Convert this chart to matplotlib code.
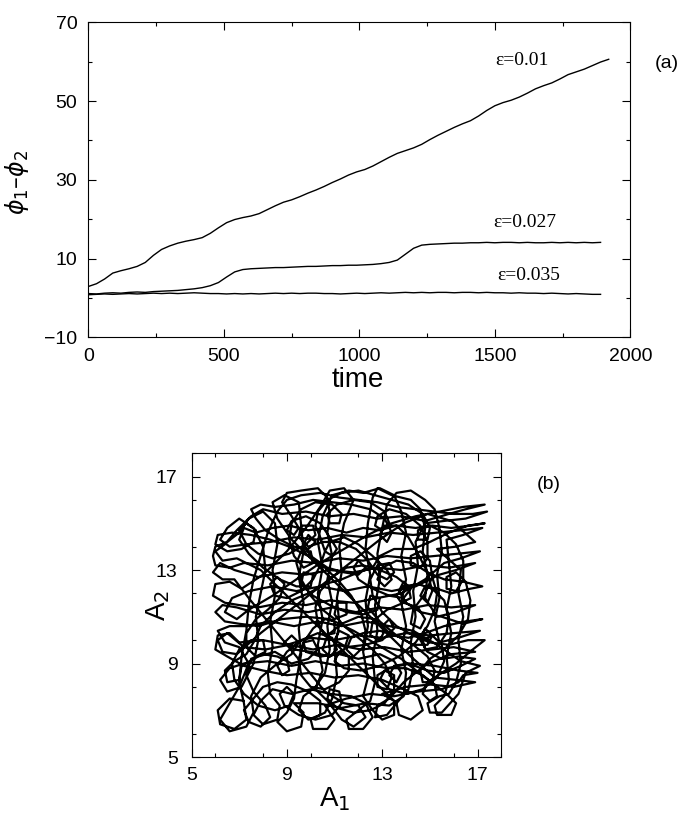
import matplotlib
matplotlib.use("Agg")
import matplotlib.pyplot as plt
from matplotlib.ticker import MultipleLocator

plt.rcParams['font.family'] = ['Liberation Sans', 'DejaVu Sans']
plt.rcParams['mathtext.fontset'] = 'dejavusans'

# ---- panel (a): phase difference versus time ----
time_a = list(range(0, 1921, 30))
time_b = list(range(0, 1891, 30))

phase_eps_001 = [
    2.9, 3.6, 4.8, 6.3, 6.9, 7.4, 8.0, 9.0, 10.8, 12.3,
    13.2, 13.9, 14.4, 14.8, 15.3, 16.4, 17.8, 19.1, 19.9, 20.4,
    20.8, 21.4, 22.4, 23.4, 24.3, 24.9, 25.7, 26.6, 27.4, 28.3,
    29.3, 30.2, 31.2, 32.0, 32.6, 33.5, 34.6, 35.7, 36.7, 37.4,
    38.1, 39.0, 40.2, 41.3, 42.3, 43.3, 44.2, 45.0, 46.2, 47.6,
    48.8, 49.6, 50.2, 51.0, 52.0, 53.1, 53.9, 54.6, 55.6, 56.7,
    57.4, 58.1, 59.0, 59.9, 60.6,
]
phase_eps_0027 = [
    1.1, 1.0, 1.2, 1.3, 1.2, 1.4, 1.5, 1.4, 1.6, 1.7,
    1.8, 1.9, 2.1, 2.3, 2.6, 3.1, 3.9, 5.3, 6.6, 7.2,
    7.4, 7.5, 7.6, 7.7, 7.7, 7.8, 7.9, 8.0, 8.0, 8.1,
    8.2, 8.2, 8.3, 8.3, 8.4, 8.5, 8.7, 9.0, 9.6, 11.1,
    12.6, 13.4, 13.6, 13.7, 13.8, 13.9, 13.9, 14.0, 14.0, 14.1,
    14.0, 14.1, 14.1, 14.0, 14.1, 14.0, 14.0, 14.1, 14.0, 14.1,
    14.0, 14.1, 14.0, 14.1,
]
phase_eps_0035 = [
    0.8, 0.9, 1.0, 0.9, 1.0, 1.1, 1.0, 1.1, 1.2, 1.1,
    1.2, 1.1, 1.2, 1.3, 1.2, 1.1, 1.1, 1.0, 1.1, 1.0,
    1.1, 1.0, 1.1, 1.2, 1.1, 1.2, 1.1, 1.2, 1.2, 1.1,
    1.1, 1.0, 1.1, 1.2, 1.1, 1.2, 1.3, 1.2, 1.3, 1.4,
    1.3, 1.4, 1.3, 1.4, 1.4, 1.3, 1.4, 1.4, 1.3, 1.4,
    1.3, 1.3, 1.2, 1.3, 1.2, 1.2, 1.1, 1.2, 1.1, 1.0,
    1.1, 1.0, 0.9, 0.9,
]
eps_labels = ['ε=0.01', 'ε=0.027', 'ε=0.035']

# ---- panel (b): amplitude A2 against amplitude A1 (one long orbit) ----
amp_a1_part1 = [
    7.2, 6.6, 6.1, 6.2, 6.8, 7.3, 7.2, 7.0, 7.1, 7.3,
    7.4, 7.6, 7.9, 8.2, 8.6, 9.0, 9.6, 10.4, 11.2, 12.0,
    12.8, 13.6, 14.4, 15.2, 16.0, 16.8, 17.4, 16.5, 15.6, 14.8,
    14.4, 14.5, 14.3, 14.4, 14.2, 14.3, 14.1, 13.6, 13.7, 14.2,
    14.7, 14.5, 13.9, 13.0, 12.0, 11.0, 10.0, 9.0, 8.0, 7.2,
    6.5, 6.0, 6.1, 6.6, 7.0, 8.0, 9.0, 10.0, 11.0, 12.0,
    13.0, 14.0, 15.0, 16.0, 17.1, 16.2, 15.4, 15.2, 15.4, 15.3,
    15.5, 15.4, 15.2, 14.8, 14.2, 13.6, 13.2, 13.0, 12.8, 12.9,
    12.7, 12.8, 12.6, 12.7, 12.5, 12.0, 11.5, 11.6, 12.2, 12.6,
    12.3, 11.7, 10.8, 10.0, 9.2, 8.4, 7.9, 7.6, 8.0, 8.6,
    8.7, 8.3, 8.2, 8.4, 8.3, 8.5, 8.4, 8.6, 8.5, 8.0,
    7.4, 7.0, 6.5, 6.0, 5.9, 6.0, 6.6, 7.2, 8.2, 9.2,
    10.2, 11.2, 12.2, 13.2, 14.2, 15.2, 16.2, 17.1, 16.3, 15.6,
    14.8, 13.8, 12.8, 11.8, 10.8, 9.8, 8.8, 7.8, 7.0, 6.4,
    5.9, 6.0, 6.6, 7.1, 8.0, 9.0, 9.8, 10.4, 10.8, 11.4,
    11.8, 11.4, 11.2, 11.3, 11.1, 11.2, 11.0, 11.1, 10.9, 10.6,
    10.0, 10.1, 10.7, 11.0, 10.6, 11.5, 12.5, 13.5, 14.5, 15.5,
    16.2, 16.4, 17.0, 16.2, 15.2, 14.2, 13.2, 12.2, 11.2, 10.2,
    9.2, 8.2, 7.2, 6.6, 6.2, 6.5, 7.1, 7.6, 7.8, 7.7,
    7.9, 8.1, 8.0, 7.6, 7.0, 6.5, 6.2, 6.6, 7.3, 8.3,
    9.3, 10.3, 11.3, 12.3, 13.3, 14.3, 15.3, 16.3, 17.2, 16.4,
    15.7, 15.8, 15.9, 15.7, 15.9, 15.7, 15.8, 15.6, 15.2, 15.3,
    15.9, 16.1, 15.7, 14.8, 13.8, 12.8, 11.8, 10.8, 9.8, 8.8,
    7.8, 7.0, 6.4, 6.0, 6.3, 6.9, 7.9, 8.9, 9.9, 10.9,
    11.9, 12.9, 13.9, 14.9, 15.9, 16.9, 16.1, 15.3, 14.8, 14.9,
    14.7, 14.8, 14.6, 14.2, 13.4, 12.8, 12.6, 12.4, 12.3, 12.5,
    12.3, 12.4, 12.2, 12.4, 12.2, 12.6, 13.0, 13.5, 13.5, 13.0,
    14.0, 15.0, 16.0, 16.9, 16.1, 15.2, 14.2, 13.2, 12.2, 11.2,
    10.2, 9.2, 8.6, 8.4, 8.9, 9.5, 9.6, 9.7, 9.5, 9.7,
    9.5, 9.6, 9.4, 9.3, 9.0, 8.6, 9.0, 9.6, 9.7, 9.3,
    10.3, 11.3, 12.3, 13.3, 13.9, 14.0, 13.8, 14.0, 13.8, 14.0,
    13.8, 14.0, 13.8, 13.5, 12.9, 12.2, 11.6, 10.9, 10.5, 10.3,
    10.5, 10.3, 10.5, 10.3, 10.5, 10.2, 10.7, 11.3, 11.8, 12.3,
    12.0, 11.4, 10.6, 9.8, 9.0, 8.2, 7.4, 6.8, 6.3, 5.9,
    6.2, 6.8, 7.8, 8.8, 9.8, 10.8, 11.8, 12.8, 13.8, 14.8,
    15.8, 16.9, 16.1, 15.4, 14.4, 13.4, 12.4, 11.4, 10.4, 9.4,
    8.4, 7.4, 6.7, 6.4, 6.9, 7.4, 8.4, 9.4, 10.4, 11.4,
    12.4, 13.4, 14.4, 15.4, 16.4, 17.3, 16.5, 15.8, 14.8, 13.8,
    12.8, 11.8, 10.8, 9.8, 8.8, 8.0, 7.5, 6.9, 6.4, 6.0,
    6.3, 6.9, 7.9, 8.9, 9.9, 10.9, 11.9, 12.9, 13.6, 13.2,
    12.7, 12.8, 13.3, 13.9, 14.9, 15.9, 16.9, 16.0, 15.1, 14.1,
    13.1, 12.1, 11.1, 10.1, 9.1, 8.1, 7.2, 6.5, 6.1, 6.3,
    6.9, 7.9, 8.9, 9.9, 10.9, 11.9, 12.9, 13.9, 14.9, 15.9,
    16.9, 16.1, 15.3, 16.3, 16.2, 16.4, 16.2, 16.3, 16.1, 15.8,
    15.4, 14.9, 15.0, 15.5, 16.2, 16.5, 17.1, 16.3, 15.3, 14.3,
    13.3, 12.3, 11.3, 10.3, 9.3, 8.3, 7.3, 6.6, 6.1, 6.4,
    7.0, 7.4, 7.0, 6.6, 6.2, 6.6, 7.3, 7.6, 7.5, 7.9,
]
amp_a2_part1 = [
    7.4, 7.5, 7.0, 6.4, 6.2, 6.6, 7.3, 8.2, 9.3, 10.4,
    11.5, 12.6, 13.6, 14.6, 15.5, 16.0, 16.2, 16.3, 16.1, 16.0,
    15.9, 15.7, 15.6, 15.5, 15.4, 15.4, 15.5, 15.2, 15.1, 15.0,
    14.2, 13.2, 12.1, 11.0, 9.9, 8.8, 7.9, 7.3, 6.8, 6.6,
    7.0, 7.6, 7.9, 8.3, 8.5, 8.4, 8.6, 8.5, 8.7, 8.9,
    9.3, 9.6, 10.2, 10.3, 9.9, 10.0, 9.8, 10.1, 10.0, 10.2,
    10.1, 10.3, 10.2, 10.3, 10.4, 10.1, 9.9, 10.8, 11.8, 12.8,
    13.8, 14.8, 15.6, 16.0, 16.4, 16.3, 15.8, 14.8, 13.7, 12.6,
    11.5, 10.4, 9.3, 8.2, 7.4, 7.0, 6.6, 6.2, 6.2, 6.7,
    7.3, 7.6, 7.7, 7.9, 7.7, 7.9, 7.4, 6.8, 6.4, 6.6,
    7.2, 7.7, 8.6, 9.7, 10.8, 11.9, 13.0, 14.1, 15.0, 15.5,
    15.2, 14.6, 14.2, 14.0, 13.6, 13.2, 13.1, 13.3, 13.2, 13.4,
    13.3, 13.5, 13.4, 13.6, 13.5, 13.6, 13.7, 13.8, 13.5, 13.3,
    12.6, 12.0, 11.8, 11.6, 11.7, 11.5, 11.6, 11.4, 11.5, 11.6,
    11.9, 12.4, 12.5, 12.2, 12.8, 13.8, 14.8, 15.7, 16.4, 16.5,
    16.0, 15.0, 14.0, 12.9, 11.8, 10.7, 9.6, 8.5, 7.5, 6.9,
    6.6, 6.2, 6.2, 6.6, 7.2, 7.5, 7.7, 7.6, 7.8, 7.9,
    8.2, 8.5, 8.6, 8.7, 8.9, 9.0, 8.8, 9.0, 8.9, 9.1,
    8.9, 9.1, 9.0, 8.8, 8.3, 7.8, 8.0, 9.0, 10.0, 11.0,
    12.0, 13.0, 14.0, 14.8, 15.2, 14.8, 14.3, 14.0, 14.1, 14.2,
    14.4, 14.3, 14.5, 14.4, 14.6, 14.5, 14.6, 14.7, 14.8, 14.5,
    14.3, 13.3, 12.3, 11.3, 10.3, 9.3, 8.3, 7.6, 7.2, 6.8,
    6.8, 7.3, 7.7, 8.4, 9.2, 9.8, 10.4, 10.9, 11.0, 10.9,
    10.6, 10.7, 10.8, 11.2, 11.5, 11.4, 11.1, 11.3, 11.2, 11.4,
    11.2, 11.4, 11.3, 11.5, 11.4, 11.5, 11.2, 11.0, 11.8, 12.8,
    13.8, 14.8, 15.6, 16.0, 16.2, 16.5, 16.1, 15.0, 13.9, 12.8,
    11.7, 10.6, 9.5, 8.4, 7.6, 7.0, 6.6, 6.8, 7.4, 7.7,
    8.0, 8.1, 8.0, 8.2, 8.3, 8.4, 9.3, 10.3, 11.3, 12.3,
    13.3, 14.3, 15.2, 15.9, 16.2, 15.9, 14.9, 13.8, 12.7, 11.6,
    10.5, 9.4, 8.3, 7.5, 6.9, 6.5, 6.1, 6.3, 6.9, 7.3,
    7.3, 7.1, 7.3, 7.2, 7.6, 8.6, 9.6, 10.6, 11.6, 12.6,
    13.6, 14.6, 15.5, 16.2, 16.5, 16.3, 16.4, 16.2, 15.3, 14.2,
    13.1, 12.0, 10.9, 9.8, 8.7, 7.9, 7.4, 6.6, 6.3, 6.7,
    7.2, 7.3, 7.8, 8.8, 9.8, 10.8, 11.8, 12.6, 12.6, 12.9,
    13.3, 13.0, 12.7, 12.9, 12.8, 13.0, 12.9, 13.1, 13.0, 13.2,
    13.1, 13.3, 13.0, 12.8, 12.3, 12.1, 12.3, 12.1, 12.3, 12.1,
    12.3, 12.1, 11.8, 11.2, 10.9, 11.3, 11.9, 12.6, 13.3, 13.9,
    14.5, 15.0, 15.3, 15.5, 15.7, 15.8, 15.6, 15.4, 15.1, 15.3,
    15.2, 15.4, 15.3, 15.5, 15.4, 15.6, 15.3, 14.7, 14.1, 13.8,
    13.4, 13.5, 13.0, 12.0, 11.0, 10.0, 9.0, 8.0, 7.3, 6.8,
    6.7, 7.2, 7.5, 8.2, 9.0, 9.4, 9.5, 9.7, 9.6, 9.5,
    9.7, 9.6, 9.8, 9.6, 9.8, 9.6, 9.7, 10.3, 10.0, 9.5,
    9.4, 10.3, 11.1, 11.9, 12.7, 13.5, 14.3, 15.0, 15.4, 15.1,
    14.2, 14.0, 13.9, 13.0, 12.0, 11.0, 10.0, 9.0, 8.2, 7.7,
    7.6, 7.3, 6.9, 6.9, 7.7, 8.6, 8.9, 9.1, 9.8, 10.4,
    10.6, 10.8, 10.6, 10.8, 10.6, 10.8, 10.6, 10.6, 10.4, 9.9,
    9.7, 9.0, 8.0, 7.3, 6.6, 6.1, 6.3, 6.9, 7.6, 8.4,
]
amp_a1_part2 = [
    8.6, 9.2, 9.5, 9.2, 8.9, 9.3, 10.0, 10.8, 11.4, 11.6,
    11.2, 11.0, 11.5, 12.3, 13.0, 13.5, 13.3, 13.0, 13.4, 14.1,
    14.8, 15.6, 16.5, 17.2, 16.4, 15.5, 14.6, 14.0, 13.7, 13.9,
    14.2, 13.9, 13.3, 12.6, 12.0, 11.8, 12.0, 12.3, 12.0, 11.4,
    10.7, 10.0, 9.7, 9.9, 10.2, 9.9, 9.3, 8.7, 8.1, 7.7,
    7.5, 7.9, 8.5, 9.3, 10.1, 10.9, 11.7, 12.5, 13.1, 13.4,
    13.2, 12.9, 13.1, 13.6, 14.1, 14.5, 14.9, 15.1, 14.9, 14.6,
    14.8, 15.3, 15.9, 16.7, 17.2, 16.4, 15.6, 14.9, 14.3, 13.6,
    13.0, 12.8, 13.1, 13.4, 13.2, 12.6, 12.0, 11.4, 10.8, 10.6,
    10.9, 11.1, 10.8, 10.4, 9.8, 9.2, 9.0, 9.3, 9.5, 9.2,
    8.8, 9.0, 9.6, 10.3, 10.7, 10.8, 10.7, 10.9, 10.7, 10.9,
    10.7, 10.8, 10.6, 10.2, 9.7, 9.5, 9.9, 10.4, 10.4, 9.9,
    9.2, 8.6, 8.0, 7.6, 7.2, 7.4, 7.9, 8.3, 8.1, 7.6,
    7.3, 7.5, 8.0, 8.6, 9.2, 9.9, 10.3, 10.1, 9.7, 9.8,
    10.4, 11.2, 12.0, 12.9, 13.5, 13.8, 13.6, 13.3, 13.5, 14.1,
    14.9, 15.6, 16.3, 16.9, 16.2, 15.5, 14.9, 14.6, 14.8, 15.1,
    14.9, 14.3, 13.6, 12.9, 12.4, 12.5, 12.9, 12.8, 12.2, 11.5,
    10.8, 10.1, 9.6, 9.7, 10.1, 10.0, 9.4, 8.7, 8.0, 7.4,
    7.0, 7.2, 7.7, 8.4, 9.1, 9.9, 10.7, 11.5, 12.2, 12.9,
    13.6, 14.4, 15.1, 15.9, 16.7, 17.3, 16.6, 15.8, 15.0, 14.3,
    13.5, 12.9, 12.6, 12.0, 11.3, 10.6, 9.9, 9.2, 8.5, 7.9,
    7.6, 7.3, 6.8, 6.4, 6.5, 7.0, 7.1,
]
amp_a2_part2 = [
    9.0, 9.4, 9.9, 10.2, 9.9, 9.6, 9.5, 9.3, 9.6, 10.2,
    10.4, 10.0, 9.7, 9.8, 10.0, 10.5, 10.9, 10.6, 10.2, 10.1,
    10.3, 10.6, 10.8, 10.9, 10.7, 11.0, 11.2, 11.6, 12.1, 12.5,
    12.2, 11.8, 11.9, 12.2, 12.6, 13.1, 13.4, 13.1, 12.8, 12.9,
    13.1, 13.6, 14.1, 14.5, 14.2, 13.9, 14.0, 14.3, 14.7, 15.2,
    15.6, 15.8, 15.7, 15.8, 16.0, 15.9, 15.8, 15.6, 15.2, 14.6,
    14.2, 14.5, 14.9, 14.9, 14.4, 13.7, 12.9, 12.1, 11.6, 11.9,
    12.3, 12.2, 12.0, 12.2, 12.3, 12.5, 12.6, 12.9, 13.3, 13.4,
    13.1, 12.6, 12.3, 12.6, 13.0, 13.6, 14.1, 14.4, 14.2, 13.8,
    13.6, 13.9, 14.4, 15.0, 15.3, 15.1, 14.7, 14.5, 14.8, 15.3,
    15.9, 16.3, 16.4, 16.5, 16.1, 15.4, 14.6, 13.6, 12.6, 11.6,
    10.6, 9.6, 8.6, 8.0, 7.6, 7.0, 6.6, 6.8, 7.4, 7.8,
    8.1, 8.2, 8.0, 7.5, 7.0, 6.5, 6.3, 6.7, 7.2, 7.8,
    8.5, 9.2, 9.4, 9.3, 9.0, 9.2, 9.6, 10.0, 9.9, 9.5,
    9.3, 9.4, 9.2, 9.4, 9.1, 8.6, 8.2, 8.5, 8.9, 9.0,
    8.7, 8.6, 8.9, 9.2, 9.3, 9.2, 9.5, 10.0, 10.5, 10.2,
    9.8, 9.8, 10.2, 10.8, 11.4, 11.9, 11.8, 11.3, 11.1, 11.2,
    11.5, 11.9, 12.4, 12.9, 12.8, 12.3, 12.3, 12.6, 13.1, 13.7,
    14.3, 14.8, 14.6, 14.8, 14.9, 14.7, 14.8, 14.6, 14.8, 14.7,
    14.9, 14.8, 14.9, 14.8, 14.9, 15.0, 14.9, 14.6, 14.2, 13.9,
    13.9, 13.6, 13.1, 12.9, 12.6, 12.4, 12.0, 11.7, 11.2, 10.6,
    9.9, 9.4, 9.1, 8.7, 8.2, 8.3, 8.9,
]
amp_a1_part3 = [
    7.8, 8.5, 9.0, 9.1, 8.8, 8.6, 9.0, 9.6, 10.3, 10.9,
    11.1, 10.8, 10.5, 10.7, 11.3, 12.0, 12.7, 13.1, 12.9, 12.5,
    12.6, 13.2, 13.9, 14.5, 14.8, 14.6, 14.2, 14.3, 14.8, 15.1,
    15.0, 14.6, 14.2, 14.2, 14.6, 14.9, 14.9, 14.6, 14.0, 13.3,
    12.8, 12.7, 13.0, 13.3, 13.1, 12.5, 11.8, 11.1, 10.7, 10.8,
    11.2, 11.3, 10.9, 10.2, 9.6, 9.2, 9.1, 9.3, 9.7, 10.1,
    10.0, 9.6, 9.4, 9.6, 10.0, 10.5, 11.0, 11.5, 11.5, 11.1,
    11.0, 11.4, 12.0, 12.6, 13.1, 13.4, 13.2, 12.8, 12.8, 13.3,
    14.0, 14.7, 15.2, 15.3, 15.0, 14.7, 14.9, 15.5, 16.1, 16.8,
    17.3, 16.6, 15.8, 15.0, 14.3, 13.6, 13.0, 12.6, 12.5, 12.8,
    13.3, 13.5, 13.2, 12.8, 12.4, 11.9, 11.2, 10.5, 9.9, 9.5,
    9.6, 10.1, 10.2, 9.8, 9.1, 8.4, 7.8, 7.3, 7.0, 7.3,
    7.7, 7.6, 7.1, 6.5, 6.0, 6.1, 6.7, 7.5, 8.3, 9.1,
    9.9, 10.6, 11.2, 11.7, 12.1, 12.3, 12.2, 11.8, 11.5, 11.7,
    12.2, 12.9, 13.6, 14.3, 14.9, 15.2, 15.1, 14.7, 14.6, 15.0,
    15.6, 16.2, 16.6, 16.7, 16.5, 16.1, 15.7, 15.7, 16.1, 16.4,
    16.4, 16.1, 15.6, 15.0, 14.5, 14.5, 14.9, 15.0, 14.7, 14.1,
    13.4, 12.7, 12.0, 11.3, 10.7, 10.3, 10.2, 10.4, 10.6, 10.4,
    10.1, 9.6, 9.0, 8.5, 8.3, 8.6, 8.9, 8.7, 8.2, 7.7,
    7.3, 7.3, 7.7, 8.1, 8.0, 7.5, 7.0, 6.7, 6.8, 7.2,
    7.8, 8.5, 9.1, 9.3, 9.0, 8.7, 8.9, 9.5, 10.2, 10.9,
    11.3, 11.2, 10.8, 10.7, 11.1, 11.8, 12.5, 13.1, 13.5, 13.5,
    13.1, 12.9, 13.3, 14.0, 14.7, 15.3, 15.6, 15.5, 15.1, 14.7,
    14.8, 15.3, 15.7, 15.8, 15.6, 15.1, 14.5, 13.9, 13.6, 13.8,
    14.2, 14.1, 13.6, 12.9, 12.2, 11.5, 10.9, 10.4, 10.2, 10.3,
    10.6, 11.0, 11.0, 10.6, 10.1, 9.7, 9.5, 9.6, 10.0, 10.6,
    11.2, 11.6, 11.6, 11.2, 11.0, 11.4, 12.1, 12.9, 13.7, 14.4,
    14.9, 15.2, 15.3, 15.1,
]
amp_a2_part3 = [
    9.3, 9.5, 9.2, 8.7, 8.5, 8.9, 9.5, 10.0, 10.3, 10.1,
    9.6, 9.3, 9.6, 10.2, 10.7, 11.0, 10.9, 10.4, 10.0, 10.2,
    10.8, 11.3, 11.6, 11.4, 10.9, 10.5, 10.7, 11.3, 12.0, 12.7,
    13.4, 13.8, 13.6, 13.2, 13.1, 13.5, 14.2, 14.9, 15.4, 15.6,
    15.3, 14.9, 14.7, 15.0, 15.5, 15.9, 16.0, 15.8, 15.4, 15.0,
    15.0, 15.4, 15.8, 15.9, 15.6, 15.0, 14.3, 13.6, 13.1, 13.3,
    13.8, 13.8, 13.3, 12.6, 11.9, 11.3, 10.9, 11.1, 11.6, 11.6,
    11.1, 10.6, 10.1, 9.6, 9.0, 8.4, 7.9, 8.0, 8.5, 8.8,
    8.8, 8.5, 8.1, 7.6, 7.4, 7.7, 8.2, 8.6, 9.0, 9.6,
    10.0, 10.0, 9.8, 9.9, 10.2, 10.6, 11.2, 11.9, 12.6, 13.2,
    13.3, 12.9, 12.6, 12.8, 13.4, 13.9, 14.2, 14.2, 14.0, 14.4,
    14.9, 14.9, 14.5, 14.1, 13.7, 13.5, 13.7, 14.1, 14.7, 15.0,
    14.7, 14.2, 13.9, 13.8, 14.1, 14.5, 14.6, 14.5, 14.3, 14.0,
    13.6, 13.1, 12.5, 11.9, 11.2, 10.4, 9.7, 9.3, 9.6, 10.1,
    10.3, 10.4, 10.2, 9.8, 9.3, 8.7, 8.2, 8.2, 8.7, 9.2,
    9.6, 10.2, 10.9, 11.7, 12.5, 12.9, 12.7, 12.2, 12.1, 12.6,
    13.4, 14.1, 14.6, 14.9, 14.7, 14.3, 14.3, 14.8, 15.4, 15.8,
    16.0, 16.2, 16.4, 16.3, 16.0, 15.5, 14.9, 14.4, 13.8, 13.2,
    12.6, 12.1, 11.8, 11.9, 12.4, 12.7, 12.4, 11.8, 11.3, 10.9,
    10.3, 9.7, 9.3, 9.5, 10.0, 10.0, 9.6, 9.0, 8.3, 7.7,
    7.2, 7.0, 7.2, 7.7, 8.0, 7.7, 7.2, 6.8, 6.6, 6.8,
    7.3, 7.8, 7.9, 7.5, 7.1, 6.9, 7.0, 7.3, 7.9, 8.5,
    8.7, 8.3, 7.9, 7.7, 7.9, 8.4, 9.1, 9.8, 10.2, 10.0,
    9.6, 9.7, 10.3, 11.0, 11.7, 12.2, 12.4, 12.3, 11.9, 11.6,
    11.8, 12.3, 12.7, 13.0, 13.2, 13.1, 12.7, 12.1, 11.4, 10.7,
    10.2, 10.3, 10.8, 10.9, 10.5, 9.9, 9.2, 8.5, 8.0, 7.9,
    8.2, 8.7, 9.3, 9.5, 9.1, 8.8, 8.7, 8.9, 9.3, 9.9,
    10.6, 11.3, 12.0, 12.7,
]

fig = plt.figure(figsize=(6.84, 8.19), dpi=100)
fig.patch.set_facecolor('white')


def style_axes(ax, xpad, ypad):
    for s in ax.spines.values():
        s.set_linewidth(0.8)
    ax.tick_params(which='both', direction='in', top=True, right=True,
                   width=0.8, labelsize=14)
    ax.tick_params(which='major', length=6)
    ax.tick_params(which='minor', length=3)
    ax.tick_params(axis='x', which='both', pad=xpad)
    ax.tick_params(axis='y', which='both', pad=ypad)


# panel (a)
ax1 = fig.add_axes([0.1292, 0.5882, 0.7924, 0.3846])
ax1.plot(time_a, phase_eps_001, color='black', lw=1.0)
ax1.plot(time_b, phase_eps_0027, color='black', lw=1.0)
ax1.plot(time_b, phase_eps_0035, color='black', lw=1.0)
ax1.set_xlim(0, 2000)
ax1.set_ylim(-10, 70)
ax1.set_xticks([0, 500, 1000, 1500, 2000])
ax1.set_yticks([-10, 10, 30, 50, 70])
ax1.xaxis.set_minor_locator(MultipleLocator(250))
ax1.yaxis.set_minor_locator(MultipleLocator(10))
style_axes(ax1, 8, 8)
ax1.set_yticklabels(['\u221210', '10', '30', '50', '70'])

for txt, tx, ty in zip(eps_labels, [1600, 1610, 1625], [60.2, 19.1, 5.6]):
    ax1.text(tx, ty, txt, family=['Liberation Serif', 'DejaVu Serif'],
             fontsize=14, ha='center', va='center')

ax1.set_xlabel('time', fontsize=20)
ax1.xaxis.label.set_va('center')
ax1.xaxis.set_label_coords(0.4965, -0.1356)
ax1.set_ylabel(r'$\phi_1$–$\phi_2$', fontsize=17)
ax1.yaxis.label.set_va('center')
ax1.yaxis.set_label_coords(-0.1317, 0.49)
fig.text(0.975, 0.9226, '(a)', fontsize=14, ha='center', va='center')

# panel (b)
orbit_a1 = amp_a1_part1 + amp_a1_part2 + amp_a1_part3
orbit_a2 = amp_a2_part1 + amp_a2_part2 + amp_a2_part3
ax2 = fig.add_axes([0.280, 0.0757, 0.453, 0.371])
ax2.plot(orbit_a1, orbit_a2, color='black', lw=1.6,
         solid_joinstyle='round', solid_capstyle='round')
ax2.set_xlim(5, 18)
ax2.set_ylim(5, 18)
ax2.set_xticks([5, 9, 13, 17])
ax2.set_yticks([5, 9, 13, 17])
ax2.xaxis.set_minor_locator(MultipleLocator(2))
ax2.yaxis.set_minor_locator(MultipleLocator(2))
style_axes(ax2, 7, 10)
ax2.set_xlabel('A$_1$', fontsize=20)
ax2.xaxis.label.set_va('center')
ax2.xaxis.set_label_coords(0.462, -0.14)
ax2.set_ylabel('A$_2$', fontsize=20)
ax2.yaxis.label.set_va('center')
ax2.yaxis.set_label_coords(-0.109, 0.5)
fig.text(0.802, 0.409, '(b)', fontsize=14, ha='center', va='center')

fig.savefig('out.png', dpi=100, facecolor='white')
